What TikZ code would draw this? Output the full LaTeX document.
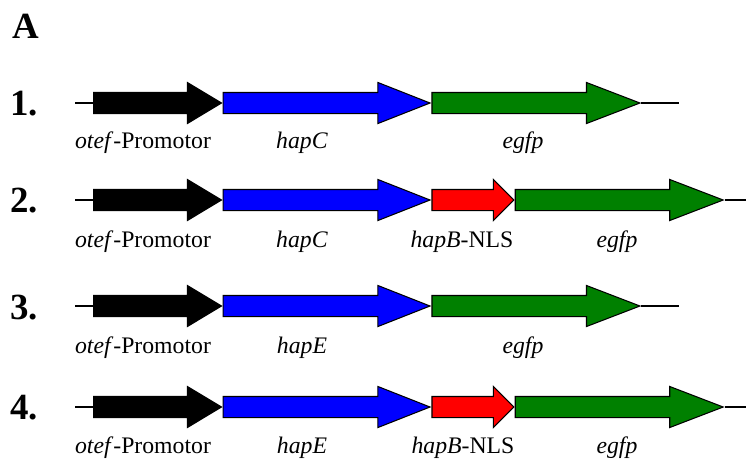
\documentclass[tikz,border=0pt]{standalone}
\usepackage{fontspec}
\setmainfont{Liberation Serif}
\usetikzlibrary{shapes.arrows}
\definecolor{genegreen}{RGB}{0,128,0}
\begin{document}
\begin{tikzpicture}[x=0.02cm, y=-0.02cm,
  gene/.style={single arrow, draw=black, line width=0.6pt, inner xsep=0pt, inner ysep=0.2cm,
    minimum width=0.8cm, single arrow head extend=0.2cm, anchor=tail},
  backbone/.style={line width=1.1pt},
  lbl/.style={anchor=base, inner sep=0pt, font=\fontsize{13.5}{16}\selectfont},
  num/.style={anchor=base west, inner sep=0pt, font=\fontsize{21}{24}\selectfont\bfseries}]
\useasboundingbox (0,0) rectangle (747,458);
\node[num] (A) at (12,38) {A};
\node[num] (R1) at (10,115) {1.};
\node[num] (R2) at (10,212) {2.};
\node[num] (R3) at (10,319) {3.};
\node[num] (R4) at (10,419) {4.};
% construct 1
\coordinate (S1) at (75,103);
\coordinate (T1) at (679,103);
\node[gene, fill=black, minimum height=2.56cm, single arrow tip angle=62] (P1) at (93,103) {};
\node[gene, fill=blue, minimum height=4.14cm, single arrow tip angle=43] (H1) at (P1.tip) {};
\node[gene, fill=genegreen, minimum height=4.16cm, single arrow tip angle=42] (E1) at (H1.tip) {};
\draw[backbone] (S1) -- (P1.tail);
\draw[backbone] (E1.tip) -- (T1);
\node[lbl] (LP1) at (143,148) {\textit{otef}-Promotor};
\node[lbl] (LH1) at (302,148) {\textit{hapC}};
\node[lbl] (LE1) at (523,148) {\textit{egfp}};
% construct 2
\coordinate (S2) at (75,200);
\coordinate (T2) at (746,200);
\node[gene, fill=black, minimum height=2.56cm, single arrow tip angle=62] (P2) at (93,200) {};
\node[gene, fill=blue, minimum height=4.14cm, single arrow tip angle=43] (H2) at (P2.tip) {};
\node[gene, fill=red, minimum height=1.64cm, single arrow tip angle=90] (B2) at (H2.tip) {};
\node[gene, fill=genegreen, minimum height=4.16cm, single arrow tip angle=42] (E2) at (B2.tip) {};
\draw[backbone] (S2) -- (P2.tail);
\draw[backbone] (E2.tip) -- (T2);
\node[lbl] (LP2) at (143,247) {\textit{otef}-Promotor};
\node[lbl] (LH2) at (302,247) {\textit{hapC}};
\node[lbl] (LB2) at (462,247) {\textit{hapB}-NLS};
\node[lbl] (LE2) at (617,247) {\textit{egfp}};
% construct 3
\coordinate (S3) at (75,306);
\coordinate (T3) at (679,306);
\node[gene, fill=black, minimum height=2.56cm, single arrow tip angle=62] (P3) at (93,306) {};
\node[gene, fill=blue, minimum height=4.14cm, single arrow tip angle=43] (H3) at (P3.tip) {};
\node[gene, fill=genegreen, minimum height=4.16cm, single arrow tip angle=42] (E3) at (H3.tip) {};
\draw[backbone] (S3) -- (P3.tail);
\draw[backbone] (E3.tip) -- (T3);
\node[lbl] (LP3) at (143,353) {\textit{otef}-Promotor};
\node[lbl] (LH3) at (302,353) {\textit{hapE}};
\node[lbl] (LE3) at (523,353) {\textit{egfp}};
% construct 4
\coordinate (S4) at (75,407);
\coordinate (T4) at (746,407);
\node[gene, fill=black, minimum height=2.56cm, single arrow tip angle=62] (P4) at (93,407) {};
\node[gene, fill=blue, minimum height=4.14cm, single arrow tip angle=43] (H4) at (P4.tip) {};
\node[gene, fill=red, minimum height=1.64cm, single arrow tip angle=90] (B4) at (H4.tip) {};
\node[gene, fill=genegreen, minimum height=4.16cm, single arrow tip angle=42] (E4) at (B4.tip) {};
\draw[backbone] (S4) -- (P4.tail);
\draw[backbone] (E4.tip) -- (T4);
\node[lbl] (LP4) at (143,453) {\textit{otef}-Promotor};
\node[lbl] (LH4) at (302,453) {\textit{hapE}};
\node[lbl] (LB4) at (463,453) {\textit{hapB}-NLS};
\node[lbl] (LE4) at (617,453) {\textit{egfp}};
\end{tikzpicture}
\end{document}
